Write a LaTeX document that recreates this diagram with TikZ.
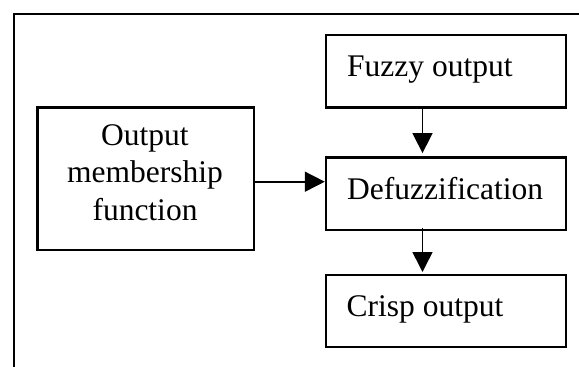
\documentclass[tikz,border=0pt]{standalone}
\usepackage{fontspec}
\setmainfont{Liberation Serif}
\usetikzlibrary{arrows.meta,calc}
\begin{document}
\begin{tikzpicture}[x=1pt,y=-1pt,
  box/.style={draw=black, line width=2.4pt, inner sep=0pt, minimum width=240pt},
  txt/.style={inner sep=0pt, font=\fontsize{31.5}{37.5}\selectfont},
  flow/.style={line width=1.6pt, -{Triangle[length=20pt,width=20pt]}}]
\useasboundingbox (0,0) rectangle (579,367);

% open frame round the diagram
\coordinate (fbl) at (14.3,367);
\coordinate (ftl) at (14.3,14.3);
\coordinate (ftr) at (579,14.3);
\draw[line width=2.2pt] (fbl) -- (ftl) -- (ftr);

% blocks
\node[box, minimum height=72.6pt] (fuzzy) at (446,71) {};
\node[box, minimum height=72.7pt] (defuz) at (446,193.65) {};
\node[box, minimum height=72pt] (crisp) at (446,310.7) {};
\node[box, minimum width=216.7pt, minimum height=142.7pt] (omf) at (145.65,178.65) {};

% block texts
\node[txt, anchor=base west] (tfuzzy) at (347,76.7) {Fuzzy output};
\node[txt, anchor=base west] (tdefuz) at (347,199.3) {Defuzzification};
\node[txt, anchor=base west] (tcrisp) at (346.5,316.3) {Crisp output};
\node[txt, anchor=base] (tomfa) at (145,145) {Output};
\node[txt, anchor=base] (tomfb) at (145,182.5) {membership};
\node[txt, anchor=base] (tomfc) at (145,220) {function};

% connectors
\coordinate (col) at (422.5,0);
\coordinate (row) at (0,181.7);
\draw[flow] (omf.east |- row) -- (defuz.west |- row);
\draw[flow] (fuzzy.south -| col) -- ($(defuz.north -| col)+(0,-3)$);
\draw[flow] ($(defuz.south -| col)+(0,-3)$) -- ($(crisp.north -| col)+(0,-1.5)$);
\end{tikzpicture}
\end{document}
